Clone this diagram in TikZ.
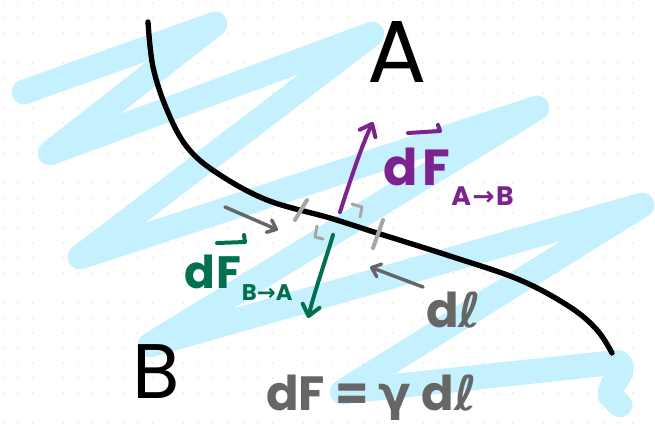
\documentclass[tikz,border=0pt]{standalone}
\usepackage{fontspec}
\setmainfont{Poppins}
\newfontfamily\symfont{DejaVu Sans}
\usetikzlibrary{arrows.meta}
\definecolor{scrib}{HTML}{C4F1FD}
\definecolor{purp}{HTML}{7E2290}
\definecolor{grn}{HTML}{00704F}
\definecolor{txtgray}{HTML}{666666}
\definecolor{tickgray}{HTML}{A6A6A6}
\definecolor{dotgray}{HTML}{C8C8C8}
\begin{document}
\begin{tikzpicture}[x=0.75pt,y=-0.75pt,
  scribble/.style={draw=scrib, line width=18.5pt, line cap=round, line join=round},
  curveline/.style={line width=4pt, line cap=round},
  tickmark/.style={draw=tickgray, line width=3pt, line cap=round},
  rangle/.style={draw=tickgray, line width=2.2pt, line cap=round, line join=round},
  pointer/.style={draw=txtgray, line width=2.6pt, line cap=round, -{Straight Barb[length=6pt,width=10pt,round]}},
  force/.style={line width=3pt, line cap=round, -{Straight Barb[length=8pt,width=13pt,round]}},
  vecbar/.style={line width=3pt, line cap=round, line join=round},
  lbl/.style={inner sep=0pt, anchor=base west}]
\useasboundingbox (0,0) rectangle (655,426);
\fill[white] (0,0) rectangle (655,426);
% dot grid
\foreach \i in {0,...,43}
  \foreach \j in {0,...,28}
    \fill[dotgray] (3+15*\i,3+15*\j) circle[radius=0.7];
% scribble
\draw[scribble] (24,92) -- (215,24) -- (50,153) -- (372,34) -- (80,257) -- (537,108)
  -- (150,345) -- (642,205) -- (342,392) -- (618,362)
  .. controls (630,370) and (608,385) .. (610,395) -- (620,405);
% black boundary curve
\draw[curveline] plot[smooth, tension=0.6] coordinates {(148,22) (153,67) (167,110) (187,147) (217,173) (267,200) (330,218) (377,233) (453,257) (520,280) (570,307) (597,330) (612,353)};
% element marks
\draw[tickmark] (307,200) -- (295,220);
\draw[tickmark] (383,220) -- (373,248);
\draw[rangle] (317,226) -- (315,237) -- (323,239);
\draw[rangle] (352,204) -- (362,207) -- (360,217);
% region labels
\node[inner sep=0pt, font=\fontsize{66}{66}\selectfont] (A) at (397,52) {A};
\node[inner sep=0pt, font=\fontsize{58}{58}\selectfont] (B) at (156,372) {B};
% forces
\coordinate (pa0) at (340,212);
\coordinate (pa1) at (373,122);
\draw[force, purp] (pa0) .. controls (352,175) and (362,145) .. (pa1);
\coordinate (ga0) at (333,235);
\coordinate (ga1) at (308,318);
\draw[force, grn] (ga0) .. controls (325,262) and (315,290) .. (ga1);
% force labels
\node[lbl, purp, font=\bfseries\fontsize{38}{38}\selectfont] (fab) at (383,185)
  {d\kern4pt F\kern0.5pt\raisebox{-15pt}{\fontsize{20}{20}\selectfont A\kern1pt{\symfont\bfseries →}\kern1pt B}};
\draw[vecbar, purp] (408,133) -- (440,131) -- (438,125);
\node[lbl, grn, font=\bfseries\fontsize{34}{34}\selectfont] (fba) at (184,288)
  {d\kern1pt F\kern0.5pt\raisebox{-9pt}{\fontsize{17}{17}\selectfont B{\symfont\bfseries →}A}};
\draw[vecbar, grn] (217,243) -- (245,242) -- (244,235);
% dl label and pointers
\node[lbl, txtgray, font=\bfseries\fontsize{36}{36}\selectfont] (dl) at (426,327) {d{\symfont ℓ}};
\coordinate (pl0) at (225,207);
\coordinate (pl1) at (278,230);
\draw[pointer] (pl0) -- (pl1);
\coordinate (pr0) at (423,287);
\coordinate (pr1) at (370,267);
\draw[pointer] (pr0) -- (pr1);
% formula
\node[lbl, txtgray, font=\bfseries\fontsize{36}{36}\selectfont] (eq) at (266,410) {dF = {\symfont γ} d{\symfont ℓ}};
\end{tikzpicture}
\end{document}
